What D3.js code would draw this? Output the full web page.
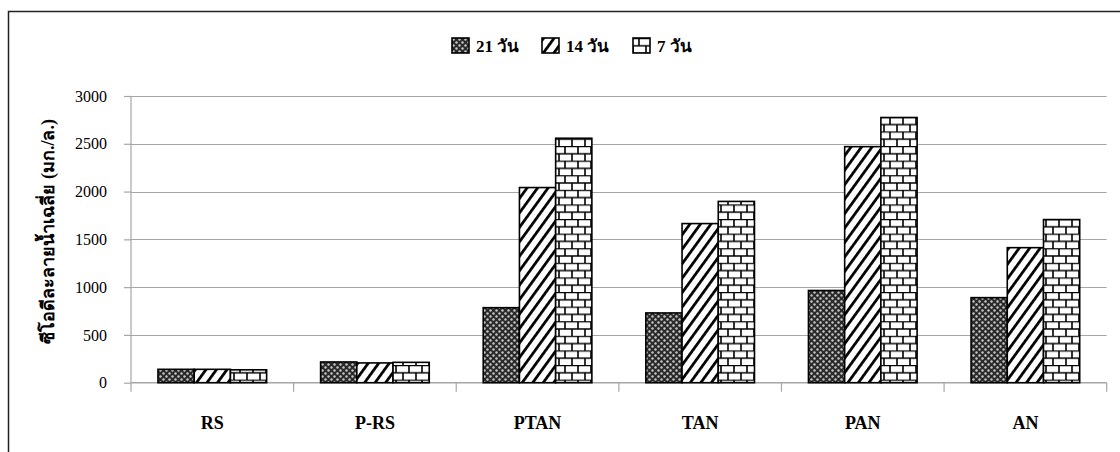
<!doctype html>
<html lang="th">
    <head>
        <meta charset="utf-8">
        <title>COD chart</title>
        <script src="https://cdn.jsdelivr.net/npm/d3@7"></script>
        <style>
            body { margin: 0; background: #fff; }
            svg { display: block; }
            text { font-family: 'Liberation Serif', serif; }
        </style>
    </head>
    <body>
        <script>
            var categories = ["RS", "P-RS", "PTAN", "TAN", "PAN", "AN"];
            var seriesNames = ["21 วัน", "14 วัน", "7 วัน"];
            var day21 = [140, 217, 785, 730, 965, 890];
            var day14 = [140, 207, 2042, 1665, 2470, 1413];
            var day7 = [135, 213, 2558, 1897, 2775, 1707];
            var yTicks = [0, 500, 1000, 1500, 2000, 2500, 3000];
            var yTitle = "ซีโอดีละลายน้ำเฉลี่ย (มก./ล.)";

            var seriesValues = [day21, day14, day7];
            var W = 1120, H = 452;
            var plot = {left: 131, right: 1106.7, top: 96, bottom: 382.7};
            var serif = "'Liberation Serif', serif";

            var svg = d3.select("body").append("svg")
                        .attr("width", W)
                        .attr("height", H);

            var defs = svg.append("defs");

            // dark net pattern (21 days)
            var p1 = defs.append("pattern")
                         .attr("id", "pat0")
                         .attr("patternUnits", "userSpaceOnUse")
                         .attr("width", 6).attr("height", 6);
            p1.append("rect").attr("width", 6).attr("height", 6).attr("fill", "#2a2a2a");
            p1.append("circle").attr("cx", 1.5).attr("cy", 1.5).attr("r", 1.2).attr("fill", "#c8c8c8");
            p1.append("circle").attr("cx", 4.5).attr("cy", 4.5).attr("r", 1.2).attr("fill", "#c8c8c8");

            // wide diagonal (14 days)
            var p2 = defs.append("pattern")
                         .attr("id", "pat1")
                         .attr("patternUnits", "userSpaceOnUse")
                         .attr("width", 8.5).attr("height", 8.5)
                         .attr("patternTransform", "rotate(36)");
            p2.append("rect").attr("width", 8.5).attr("height", 8.5).attr("fill", "#fff");
            p2.append("line").attr("x1", 0).attr("y1", 0).attr("x2", 0).attr("y2", 8.5)
              .attr("stroke", "#000").attr("stroke-width", 5.5);

            // brick (7 days)
            var p3 = defs.append("pattern")
                         .attr("id", "pat2")
                         .attr("patternUnits", "userSpaceOnUse")
                         .attr("width", 26).attr("height", 14.6);
            p3.append("rect").attr("width", 26).attr("height", 14.6).attr("fill", "#fff");
            p3.append("path")
              .attr("d", "M0,0.5H26M0,7.8H26M6,0.5V7.8M19,0.5V7.8M0,7.8V14.6M13,7.8V14.6M26,7.8V14.6")
              .attr("stroke", "#000").attr("stroke-width", 1.6).attr("fill", "none");

            // outer frame (cut by the picture edge on right/bottom)
            svg.append("rect")
               .attr("x", 8.5).attr("y", 11.5)
               .attr("width", W + 20).attr("height", H + 20)
               .attr("fill", "none").attr("stroke", "#222").attr("stroke-width", 1.5);

            var x = d3.scaleBand()
                      .domain(categories)
                      .range([plot.left, plot.right]);

            var xs = d3.scaleBand()
                       .domain(d3.range(seriesNames.length))
                       .range([0, x.bandwidth()])
                       .paddingInner(0)
                       .paddingOuter(0.745);

            var y = d3.scaleLinear()
                      .domain([0, 3000])
                      .range([plot.bottom, plot.top]);

            // gridlines
            svg.append("g")
               .selectAll("line")
               .data(yTicks.slice(1))
               .enter()
               .append("line")
               .attr("x1", plot.left).attr("x2", plot.right)
               .attr("y1", d => Math.round(y(d)) + 0.5)
               .attr("y2", d => Math.round(y(d)) + 0.5)
               .attr("stroke", "#a6a6a6").attr("stroke-width", 1.2);

            // y axis
            var yAxis = d3.axisLeft(y)
                          .tickValues(yTicks)
                          .tickFormat(d3.format("d"))
                          .tickSize(7)
                          .tickPadding(17);
            var gy = svg.append("g")
                        .attr("transform", "translate(" + plot.left + ",0)")
                        .call(yAxis);
            gy.select(".domain").remove();
            gy.append("line")
              .attr("x1", 0).attr("x2", 0)
              .attr("y1", plot.top).attr("y2", plot.bottom + 9)
              .attr("stroke", "#a6a6a6").attr("stroke-width", 1.2);
            gy.selectAll(".tick line").attr("stroke", "#a6a6a6").attr("stroke-width", 1.2);
            gy.selectAll(".tick text")
              .style("font-family", serif)
              .style("font-size", "16px")
              .attr("fill", "#000");

            // x axis
            var gx = svg.append("g")
                        .attr("transform", "translate(0," + plot.bottom + ")");
            gx.append("line")
              .attr("x1", plot.left).attr("x2", plot.right)
              .attr("y1", 0).attr("y2", 0)
              .attr("stroke", "#a6a6a6").attr("stroke-width", 1.5);
            gx.selectAll("line.tk")
              .data(categories)
              .enter()
              .append("line")
              .attr("class", "tk")
              .attr("x1", d => x(d) + x.bandwidth())
              .attr("x2", d => x(d) + x.bandwidth())
              .attr("y1", 0).attr("y2", 9)
              .attr("stroke", "#a6a6a6").attr("stroke-width", 1.2);
            gx.selectAll("text")
              .data(categories)
              .enter()
              .append("text")
              .attr("x", d => x(d) + x.bandwidth() / 2)
              .attr("y", 46)
              .attr("text-anchor", "middle")
              .style("font-family", serif)
              .style("font-size", "18px")
              .style("font-weight", "bold")
              .text(d => d);

            // bars
            var groups = svg.selectAll("g.series")
                            .data(seriesValues)
                            .enter()
                            .append("g")
                            .attr("class", "series")
                            .attr("fill", (_, i) => "url(#pat" + i + ")");

            groups.each(function (vals, si) {
                d3.select(this).selectAll("rect")
                  .data(vals)
                  .enter()
                  .append("rect")
                  .attr("x", (_, i) => x(categories[i]) + xs(si))
                  .attr("y", d => y(d))
                  .attr("width", xs.bandwidth())
                  .attr("height", d => y(0) - y(d))
                  .attr("stroke", "#000")
                  .attr("stroke-width", 1.6);
            });

            // y title
            svg.append("text")
               .attr("transform", "translate(54," + ((plot.top + plot.bottom) / 2 - 8) + ") rotate(-90)")
               .attr("text-anchor", "middle")
               .style("font-family", serif)
               .style("font-size", "18px")
               .style("font-weight", "bold")
               .text(yTitle);

            // legend
            var legX = [452, 542, 633];
            var leg = svg.selectAll("g.leg")
                         .data(seriesNames)
                         .enter()
                         .append("g")
                         .attr("class", "leg")
                         .attr("transform", (_, i) => "translate(" + legX[i] + ",38)");
            leg.append("rect")
               .attr("width", 17).attr("height", 15)
               .attr("fill", (_, i) => "url(#pat" + i + ")")
               .attr("stroke", "#000").attr("stroke-width", 1.6);
            leg.append("text")
               .attr("x", 24).attr("y", 14)
               .style("font-family", serif)
               .style("font-size", "17px")
               .style("font-weight", "bold")
               .text(d => d);
        </script>
    </body>
</html>
